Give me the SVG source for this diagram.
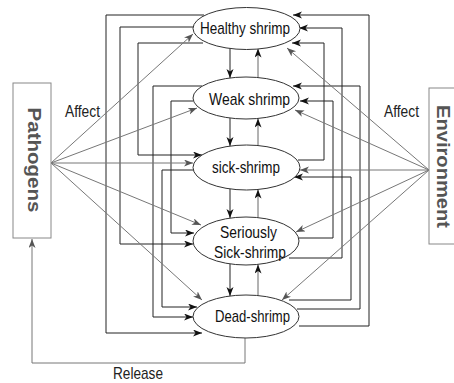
<svg xmlns="http://www.w3.org/2000/svg" width="454" height="383" viewBox="0 0 454 383">
<style>
.bg{fill:#fff}
.node ellipse{fill:#fff;stroke:#333;stroke-width:1}
.node text{font-family:"Liberation Sans Narrow","Liberation Sans",Arial,sans-serif;font-size:17px;fill:#111;text-anchor:middle}
.box rect{fill:#fff;stroke:#888;stroke-width:1}
.box text{font-family:"Liberation Sans",Arial,sans-serif;font-size:19px;font-weight:bold;fill:#555;text-anchor:middle}
.k{fill:none;stroke:#222;stroke-width:1;marker-end:url(#ab)}
.u{fill:none;stroke:#666;stroke-width:1;marker-end:url(#ab)}
.g{fill:none;stroke:#777;stroke-width:1;marker-end:url(#ag)}
.lbl{font-family:"Liberation Sans Narrow","Liberation Sans",Arial,sans-serif;font-size:17px;fill:#222;text-anchor:middle}
</style>
<defs>
<marker id="ab" markerUnits="userSpaceOnUse" markerWidth="10" markerHeight="8" refX="9" refY="3.5" orient="auto">
<path d="M0,0 L9,3.5 L0,7 L2.5,3.5 Z" fill="#111"/>
</marker>
<marker id="ag" markerUnits="userSpaceOnUse" markerWidth="10" markerHeight="8" refX="9" refY="3.5" orient="auto">
<path d="M0,0 L9,3.5 L0,7 L2.5,3.5 Z" fill="#555"/>
</marker>
</defs>
<rect class="bg" x="0" y="0" width="454" height="383"/>

<g id="connectors">
<!-- left side transitions -->
<path class="k" d="M204,15 H106 V333 H202"/>
<path class="k" d="M193,27 H120 V244 H193"/>
<path class="k" d="M203,43 H138 V155 H202"/>
<path class="k" d="M202,86 H153 V317 H193"/>
<path class="k" d="M193,101 H171 V233 H194"/>
<path class="k" d="M194,170 H162 V307 H197"/>
<!-- right side transitions -->
<path class="k" d="M299,326 H369 V15 H293"/>
<path class="k" d="M289,258 H342 V28 H299"/>
<path class="k" d="M298,160 H324 V43 H292"/>
<path class="k" d="M297,309 H360 V86 H293"/>
<path class="k" d="M299,238 H333 V101 H300"/>
<path class="k" d="M289,300 H351 V177 H294"/>
<!-- vertical down -->
<path class="k" d="M230,48 V78"/>
<path class="k" d="M230,118 V146"/>
<path class="k" d="M230,189 V218"/>
<path class="k" d="M230,264 V296"/>
<!-- vertical up -->
<path class="u" d="M258,77.5 V48.5"/>
<path class="u" d="M258,145.5 V118.5"/>
<path class="u" d="M258,217.5 V189.5"/>
<path class="u" d="M258,295.5 V264.5"/>
<!-- pathogens affect -->
<path class="g" d="M51,163 L193,34"/>
<path class="g" d="M51,163 L197,108"/>
<path class="g" d="M51,163 L193,163"/>
<path class="g" d="M51,163 L201,225"/>
<path class="g" d="M51,163 L202,300"/>
<!-- environment affect -->
<path class="g" d="M429,170 L287,48"/>
<path class="g" d="M429,170 L295,110"/>
<path class="g" d="M429,170 L300,170"/>
<path class="g" d="M429,170 L296,232"/>
<path class="g" d="M429,170 L282,300"/>
<!-- release -->
<path class="g" d="M245,338 V363 H32 V239"/>
<text class="lbl" x="82.5" y="117" textLength="35" lengthAdjust="spacingAndGlyphs">Affect</text>
<text class="lbl" x="401.5" y="117" textLength="35" lengthAdjust="spacingAndGlyphs">Affect</text>
<text class="lbl" x="138" y="379" textLength="50" lengthAdjust="spacingAndGlyphs">Release</text>
</g>

<g id="healthy" class="node">
<ellipse cx="246.5" cy="28.5" rx="53.5" ry="21"/>
<text x="245" y="34" textLength="90" lengthAdjust="spacingAndGlyphs">Healthy shrimp</text>
</g>
<g id="weak" class="node">
<ellipse cx="246" cy="98" rx="53" ry="21"/>
<text x="249.5" y="105" textLength="81" lengthAdjust="spacingAndGlyphs">Weak shrimp</text>
</g>
<g id="sick" class="node">
<ellipse cx="246.5" cy="167.5" rx="53.5" ry="22.5"/>
<text x="246" y="173" textLength="68" lengthAdjust="spacingAndGlyphs">sick-shrimp</text>
</g>
<g id="serious" class="node">
<ellipse cx="246" cy="241" rx="53" ry="24"/>
<text x="248.5" y="238" textLength="57" lengthAdjust="spacingAndGlyphs">Seriously</text>
<text x="250" y="258" textLength="72" lengthAdjust="spacingAndGlyphs">Sick-shrimp</text>
</g>
<g id="dead" class="node">
<ellipse cx="246" cy="316.5" rx="53" ry="21.5"/>
<text x="252.5" y="322" textLength="75" lengthAdjust="spacingAndGlyphs">Dead-shrimp</text>
</g>

<g id="pathogens" class="box">
<rect x="13" y="83" width="38" height="155"/>
<text transform="translate(28,160) rotate(90)" x="0" y="0" textLength="105" lengthAdjust="spacingAndGlyphs">Pathogens</text>
</g>
<g id="environment" class="box">
<rect x="429" y="88" width="40" height="156"/>
<text transform="translate(437,166.5) rotate(90)" x="0" y="0" textLength="123" lengthAdjust="spacingAndGlyphs">Environment</text>
</g>
</svg>
